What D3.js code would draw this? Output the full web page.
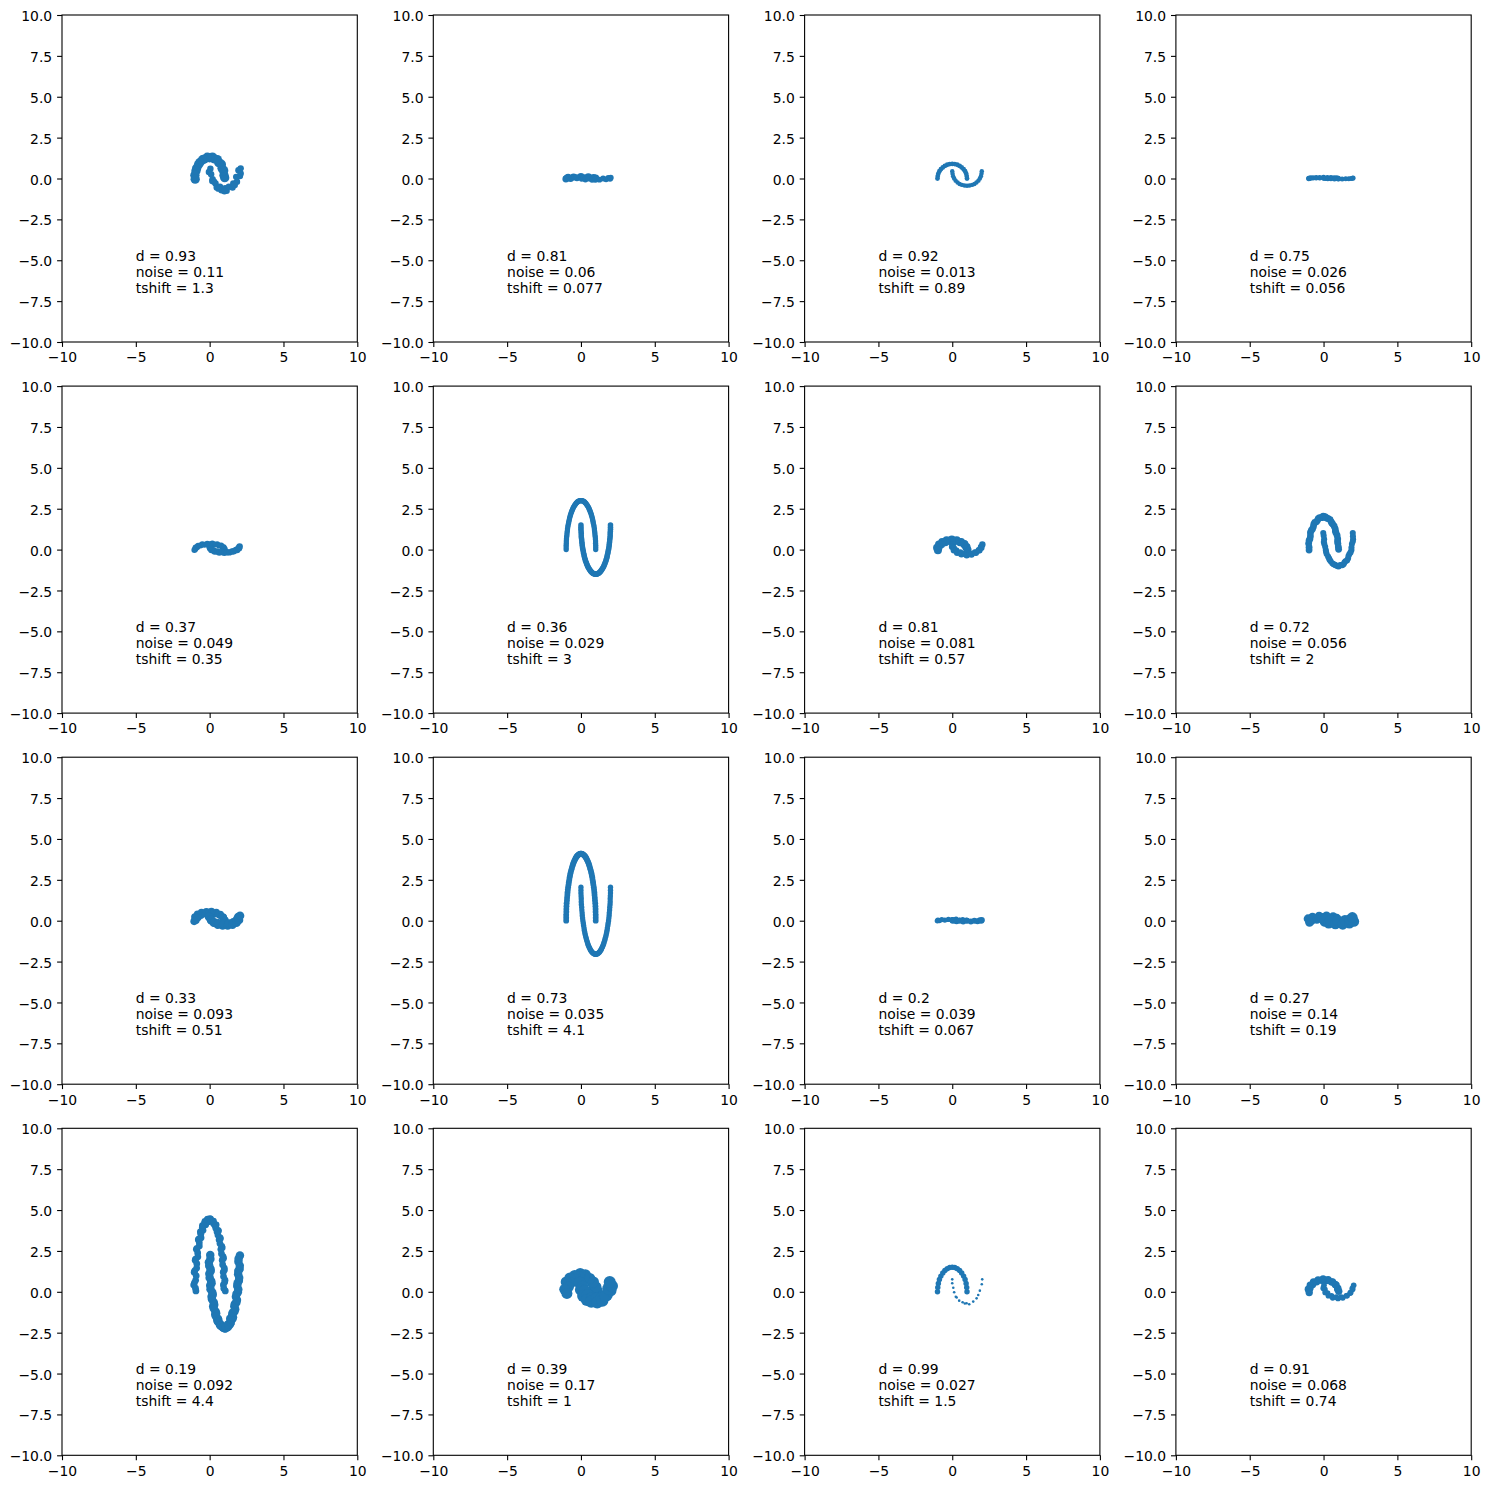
<!DOCTYPE html>
<html><head><meta charset="utf-8">
<script src="https://cdn.jsdelivr.net/npm/d3@7"></script>
<style>html,body{margin:0;padding:0;background:#fff;} svg{display:block;}</style>
</head><body>
<svg id="chart" width="1489" height="1489"></svg>
<script>
// Panel parameters (read from annotations), row-major 4x4
const dValues      = [0.93, 0.81, 0.92, 0.75, 0.37, 0.36, 0.81, 0.72, 0.33, 0.73, 0.2, 0.27, 0.19, 0.39, 0.99, 0.91];
const noiseValues  = [0.11, 0.06, 0.013, 0.026, 0.049, 0.029, 0.081, 0.056, 0.093, 0.035, 0.039, 0.14, 0.092, 0.17, 0.027, 0.068];
const tshiftValues = [1.3, 0.077, 0.89, 0.056, 0.35, 3, 0.57, 2, 0.51, 4.1, 0.067, 0.19, 4.4, 1, 1.5, 0.74];

const xTicks = [-10, -5, 0, 5, 10];
const yTicks = [-10, -7.5, -5, -2.5, 0, 2.5, 5, 7.5, 10];

// Point samples: outer moon and inner moon
const p1Outer = [[1.02,0.05],[0.97,0.2],[0.95,0.48],[0.84,0.62],[0.79,0.87],[0.62,0.97],[0.52,1.16],[0.33,1.2],[0.19,1.31],[0.0,1.27],[-0.16,1.3],[-0.36,1.19],[-0.48,1.15],[-0.66,0.98],[-0.75,0.86],[-0.88,0.62],[-0.93,0.46],[-1.0,0.2],[-0.98,-0.04]];
const p1Inner = [[0.05,0.6],[-0.05,0.4],[0.1,0.26],[0.2,-0.05],[0.18,-0.15],[0.4,-0.3],[0.48,-0.55],[0.7,-0.5],[0.8,-0.72],[1.05,-0.6],[1.15,-0.75],[1.3,-0.5],[1.55,-0.55],[1.6,-0.3],[1.85,-0.2],[1.8,0.1],[2.05,0.15],[1.95,0.5],[2.1,0.62],[0.6,-0.62],[1.0,-0.78],[1.7,-0.4],[2.1,0.3],[0.3,-0.2]];

const p2Outer = [[1.0,0.03],[0.97,-0.04],[0.86,0.06],[0.7,0.02],[0.5,0.1],[0.25,0.05],[0.0,0.12],[-0.27,0.04],[-0.5,0.09],[-0.7,0.0],[-0.87,0.07],[-0.96,0.01],[-1.02,-0.03]];
const p2Inner = [[0.02,0.06],[0.05,-0.02],[0.15,0.02],[0.3,-0.06],[0.5,0.0],[0.75,-0.08],[1.0,-0.02],[1.25,-0.07],[1.5,0.0],[1.7,-0.05],[1.85,0.03],[1.97,-0.02],[2.02,0.05]];

const p3Outer = [[1,0],[0.98,0.15],[0.94,0.3],[0.87,0.45],[0.77,0.57],[0.64,0.68],[0.5,0.77],[0.34,0.84],[0.17,0.88],[0,0.89],[-0.17,0.88],[-0.34,0.84],[-0.5,0.77],[-0.64,0.68],[-0.77,0.57],[-0.87,0.45],[-0.94,0.3],[-0.98,0.15],[-1,0]];
const p3Inner = [[0,0.45],[0.02,0.29],[0.06,0.14],[0.13,0],[0.23,-0.13],[0.36,-0.24],[0.5,-0.33],[0.66,-0.39],[0.83,-0.43],[1,-0.45],[1.17,-0.43],[1.34,-0.39],[1.5,-0.33],[1.64,-0.24],[1.77,-0.13],[1.87,0],[1.94,0.14],[1.98,0.29],[2,0.45]];

const p4Outer = [[1,0],[0.97,0.01],[0.87,0.03],[0.71,0.04],[0.5,0.05],[0.26,0.05],[0,0.06],[-0.26,0.05],[-0.5,0.05],[-0.71,0.04],[-0.87,0.03],[-0.97,0.01],[-1,0]];
const p4Inner = [[0,0.03],[0.03,0.01],[0.13,0],[0.29,-0.01],[0.5,-0.02],[0.74,-0.03],[1,-0.03],[1.26,-0.03],[1.5,-0.02],[1.71,-0.01],[1.87,0],[1.97,0.01],[2,0.03]];

const p5Outer = [[1.02,0.03],[0.98,0.04],[0.95,0.14],[0.86,0.16],[0.78,0.25],[0.63,0.25],[0.51,0.33],[0.33,0.31],[0.18,0.37],[0.01,0.33],[-0.16,0.36],[-0.35,0.3],[-0.5,0.32],[-0.62,0.25],[-0.78,0.24],[-0.85,0.15],[-0.95,0.13],[-0.97,0.04],[-1.03,-0.02]];
const p5Inner = [[-0.02,0.2],[0.03,0.09],[0.07,0.08],[0.12,-0.02],[0.25,-0.04],[0.34,-0.11],[0.52,-0.12],[0.65,-0.18],[0.84,-0.15],[0.99,-0.2],[1.18,-0.16],[1.33,-0.17],[1.52,-0.11],[1.63,-0.1],[1.78,-0.03],[1.86,-0.02],[1.95,0.08],[1.99,0.09],[2.03,0.19]];

const p6Outer = [[1,0],[1,0.26],[0.99,0.52],[0.97,0.78],[0.94,1.03],[0.91,1.27],[0.87,1.5],[0.82,1.72],[0.77,1.93],[0.71,2.12],[0.64,2.3],[0.57,2.46],[0.5,2.6],[0.42,2.72],[0.34,2.82],[0.26,2.9],[0.17,2.96],[0.09,2.99],[0,3],[-0.09,2.99],[-0.17,2.96],[-0.26,2.9],[-0.34,2.82],[-0.42,2.72],[-0.5,2.6],[-0.57,2.46],[-0.64,2.3],[-0.71,2.12],[-0.77,1.93],[-0.82,1.72],[-0.87,1.5],[-0.91,1.27],[-0.94,1.03],[-0.97,0.78],[-0.99,0.52],[-1,0.26],[-1,0]];
const p6OuterFill = [[1,0.13],[0.99,0.39],[0.98,0.65],[0.95,0.9],[0.92,1.15],[0.89,1.39],[0.84,1.61],[0.79,1.83],[0.74,2.03],[0.68,2.21],[0.61,2.38],[0.54,2.53],[0.46,2.66],[0.38,2.77],[0.3,2.86],[0.22,2.93],[0.13,2.97],[0.04,3.0],[-0.04,3.0],[-0.13,2.97],[-0.22,2.93],[-0.3,2.86],[-0.38,2.77],[-0.46,2.66],[-0.54,2.53],[-0.61,2.38],[-0.68,2.21],[-0.74,2.03],[-0.79,1.83],[-0.84,1.61],[-0.89,1.39],[-0.92,1.15],[-0.95,0.9],[-0.98,0.65],[-0.99,0.39],[-1,0.13]];
const p6Inner = [[0,1.5],[0,1.24],[0.02,0.98],[0.03,0.72],[0.06,0.47],[0.09,0.23],[0.13,0],[0.18,-0.22],[0.23,-0.43],[0.29,-0.62],[0.36,-0.8],[0.43,-0.96],[0.5,-1.1],[0.58,-1.22],[0.66,-1.32],[0.74,-1.4],[0.83,-1.46],[0.91,-1.49],[1,-1.5],[1.09,-1.49],[1.17,-1.46],[1.26,-1.4],[1.34,-1.32],[1.42,-1.22],[1.5,-1.1],[1.57,-0.96],[1.64,-0.8],[1.71,-0.62],[1.77,-0.43],[1.82,-0.22],[1.87,0],[1.91,0.23],[1.94,0.47],[1.97,0.72],[1.98,0.98],[2,1.24],[2,1.5]];
const p6InnerFill = [[0,1.37],[0.01,1.11],[0.02,0.85],[0.05,0.6],[0.08,0.35],[0.11,0.11],[0.16,-0.11],[0.21,-0.33],[0.26,-0.53],[0.32,-0.71],[0.39,-0.88],[0.46,-1.03],[0.54,-1.16],[0.62,-1.27],[0.7,-1.36],[0.78,-1.43],[0.87,-1.47],[0.96,-1.5],[1.04,-1.5],[1.13,-1.47],[1.22,-1.43],[1.3,-1.36],[1.38,-1.27],[1.46,-1.16],[1.54,-1.03],[1.61,-0.88],[1.68,-0.71],[1.74,-0.53],[1.79,-0.33],[1.84,-0.11],[1.89,0.11],[1.92,0.35],[1.95,0.6],[1.98,0.85],[1.99,1.11],[2,1.37]];

const p7Outer = [[1.04,-0.03],[0.95,0.14],[0.97,0.16],[0.83,0.33],[0.8,0.34],[0.6,0.47],[0.53,0.45],[0.3,0.58],[0.2,0.52],[-0.03,0.62],[-0.15,0.53],[-0.38,0.57],[-0.47,0.45],[-0.68,0.47],[-0.74,0.33],[-0.9,0.31],[-0.92,0.15],[-1.03,0.12],[-0.97,-0.04]];
const p7Inner = [[0.03,0.32],[-0.01,0.17],[0.1,0.1],[0.11,-0.04],[0.27,-0.05],[0.33,-0.19],[0.54,-0.18],[0.62,-0.29],[0.86,-0.25],[0.98,-0.34],[1.2,-0.25],[1.3,-0.3],[1.54,-0.17],[1.6,-0.19],[1.8,-0.04],[1.84,-0.04],[1.97,0.12],[1.95,0.16],[2.04,0.31]];

const p8Outer = [[1.02,0.02],[0.97,0.37],[0.96,0.65],[0.84,1.03],[0.79,1.27],[0.62,1.56],[0.52,1.7],[0.32,1.9],[0.19,1.95],[-0.02,2.04],[-0.15,1.95],[-0.36,1.9],[-0.48,1.7],[-0.66,1.55],[-0.75,1.26],[-0.89,1.03],[-0.92,0.66],[-1.01,0.37],[-0.98,-0.03]];
const p8OuterFill = [[1.0,0.17],[0.95,0.5],[0.92,0.87],[0.8,1.13],[0.72,1.43],[0.56,1.62],[0.44,1.83],[0.24,1.91],[0.1,2.02],[-0.07,1.97],[-0.27,1.95],[-0.41,1.79],[-0.59,1.66],[-0.69,1.39],[-0.83,1.17],[-0.89,0.83],[-0.98,0.54],[-0.98,0.15]];
const p8Inner = [[-0.02,1.02],[0.04,0.63],[0.05,0.35],[0.15,-0.03],[0.21,-0.27],[0.38,-0.55],[0.48,-0.71],[0.68,-0.9],[0.81,-0.95],[1.02,-1.03],[1.15,-0.95],[1.36,-0.9],[1.48,-0.71],[1.66,-0.55],[1.75,-0.27],[1.89,-0.02],[1.92,0.34],[2.0,0.63],[1.98,1.02]];
const p8InnerFill = [[0.01,0.85],[0.02,0.46],[0.11,0.17],[0.17,-0.13],[0.31,-0.43],[0.41,-0.62],[0.59,-0.83],[0.73,-0.91],[0.92,-1.01],[1.08,-0.97],[1.27,-0.95],[1.41,-0.79],[1.59,-0.66],[1.69,-0.39],[1.83,-0.17],[1.89,0.13],[1.98,0.5],[1.99,0.81]];

const p9Outer = [[0.97,0.05],[1.04,0.03],[0.9,0.22],[0.93,0.2],[0.72,0.38],[0.7,0.33],[0.45,0.5],[0.38,0.42],[0.12,0.56],[0.05,0.45],[-0.22,0.55],[-0.28,0.42],[-0.55,0.5],[-0.6,0.33],[-0.82,0.39],[-0.8,0.2],[-1.0,0.22],[-0.93,0.03],[-1.05,-0.04]];
const p9Inner = [[0.04,0.2],[-0.04,0.22],[0.1,0.03],[0.09,0.06],[0.28,-0.13],[0.32,-0.09],[0.55,-0.25],[0.6,-0.16],[0.88,-0.3],[0.95,-0.2],[1.22,-0.3],[1.3,-0.17],[1.55,-0.24],[1.6,-0.09],[1.82,-0.12],[1.83,0.06],[1.99,0.04],[1.93,0.22],[2.06,0.3]];

const p10Outer = [[1,0],[1,0.36],[0.99,0.71],[0.97,1.06],[0.94,1.4],[0.91,1.73],[0.87,2.05],[0.82,2.35],[0.77,2.64],[0.71,2.9],[0.64,3.14],[0.57,3.36],[0.5,3.55],[0.42,3.71],[0.34,3.85],[0.26,3.96],[0.17,4.04],[0.09,4.08],[0,4.1],[-0.09,4.08],[-0.17,4.04],[-0.26,3.96],[-0.34,3.85],[-0.42,3.71],[-0.5,3.55],[-0.57,3.36],[-0.64,3.14],[-0.71,2.9],[-0.77,2.64],[-0.82,2.35],[-0.87,2.05],[-0.91,1.73],[-0.94,1.4],[-0.97,1.06],[-0.99,0.71],[-1,0.36],[-1,0]];
const p10OuterFill = [[1,0.18],[0.99,0.54],[0.98,0.89],[0.95,1.23],[0.92,1.57],[0.89,1.89],[0.84,2.2],[0.79,2.5],[0.74,2.77],[0.68,3.02],[0.61,3.25],[0.54,3.46],[0.46,3.64],[0.38,3.79],[0.3,3.91],[0.22,4.0],[0.13,4.06],[0.04,4.1],[-0.04,4.1],[-0.13,4.06],[-0.22,4.0],[-0.3,3.91],[-0.38,3.79],[-0.46,3.64],[-0.54,3.46],[-0.61,3.25],[-0.68,3.02],[-0.74,2.77],[-0.79,2.5],[-0.84,2.2],[-0.89,1.89],[-0.92,1.57],[-0.95,1.23],[-0.98,0.89],[-0.99,0.54],[-1,0.18]];
const p10Inner = [[0,2.05],[0,1.69],[0.02,1.34],[0.03,0.99],[0.06,0.65],[0.09,0.32],[0.13,0],[0.18,-0.3],[0.23,-0.59],[0.29,-0.85],[0.36,-1.09],[0.43,-1.31],[0.5,-1.5],[0.58,-1.66],[0.66,-1.8],[0.74,-1.91],[0.83,-1.99],[0.91,-2.03],[1,-2.05],[1.09,-2.03],[1.17,-1.99],[1.26,-1.91],[1.34,-1.8],[1.42,-1.66],[1.5,-1.5],[1.57,-1.31],[1.64,-1.09],[1.71,-0.85],[1.77,-0.59],[1.82,-0.3],[1.87,0],[1.91,0.32],[1.94,0.65],[1.97,0.99],[1.98,1.34],[2,1.69],[2,2.05]];
const p10InnerFill = [[0,1.87],[0.01,1.51],[0.02,1.16],[0.05,0.82],[0.08,0.48],[0.11,0.16],[0.16,-0.15],[0.21,-0.45],[0.26,-0.72],[0.32,-0.97],[0.39,-1.2],[0.46,-1.41],[0.54,-1.59],[0.62,-1.74],[0.7,-1.86],[0.78,-1.95],[0.87,-2.01],[0.96,-2.05],[1.04,-2.05],[1.13,-2.01],[1.22,-1.95],[1.3,-1.86],[1.38,-1.74],[1.46,-1.59],[1.54,-1.41],[1.61,-1.2],[1.68,-0.97],[1.74,-0.72],[1.79,-0.45],[1.84,-0.15],[1.89,0.16],[1.92,0.48],[1.95,0.82],[1.98,1.16],[1.99,1.51],[2,1.87]];

const p11Outer = [[1,0.01],[0.96,0.03],[0.87,0.0],[0.71,0.07],[0.5,0.04],[0.26,0.09],[0,0.05],[-0.26,0.08],[-0.5,0.04],[-0.71,0.07],[-0.87,0.01],[-0.97,0.04],[-1.01,-0.01]];
const p11Inner = [[0,0.05],[0.03,0.0],[0.13,0.02],[0.29,-0.03],[0.5,0.0],[0.74,-0.05],[1,-0.01],[1.26,-0.05],[1.5,0.0],[1.71,-0.03],[1.87,0.02],[1.97,-0.01],[2,0.04]];

const p12Outer = [[1.05,-0.08],[0.9,0.15],[0.92,0.02],[0.65,0.25],[0.55,0.08],[0.2,0.3],[0.05,0.1],[-0.3,0.28],[-0.45,0.08],[-0.75,0.22],[-0.82,0.0],[-1.05,0.12],[-0.95,-0.1]];
const p12Inner = [[-0.05,0.15],[0.1,-0.05],[0.08,0.1],[0.35,-0.15],[0.45,0.02],[0.8,-0.2],[0.95,0.0],[1.3,-0.22],[1.45,0.02],[1.75,-0.15],[1.8,0.08],[2.05,-0.05],[1.95,0.2]];

const p13Outer = [[1.06,0.05],[0.93,0.42],[1.04,0.71],[0.92,1.2],[0.99,1.45],[0.85,1.93],[0.91,2.15],[0.76,2.6],[0.82,2.78],[0.64,3.18],[0.69,3.32],[0.5,3.68],[0.56,3.76],[0.35,4.07],[0.4,4.09],[0.18,4.33],[0.22,4.28],[0.02,4.47],[0.05,4.36],[-0.14,4.45],[-0.1,4.28],[-0.32,4.3],[-0.27,4.1],[-0.49,4.05],[-0.45,3.76],[-0.63,3.66],[-0.58,3.3],[-0.77,3.18],[-0.7,2.8],[-0.9,2.6],[-0.8,2.14],[-0.98,1.93],[-0.88,1.45],[-1.05,1.2],[-0.95,0.7],[-1.08,0.42],[-0.93,0.05]];
const p13OuterFill = [[0.96,0.2],[1.02,0.6],[0.94,0.93],[1.0,1.34],[0.88,1.66],[0.94,2.05],[0.8,2.33],[0.85,2.7],[0.7,2.95],[0.73,3.26],[0.56,3.47],[0.6,3.73],[0.42,3.88],[0.44,4.1],[0.26,4.18],[0.26,4.32],[0.1,4.34],[0.07,4.44],[-0.02,4.38],[-0.17,4.4],[-0.2,4.26],[-0.34,4.22],[-0.4,4.05],[-0.5,3.92],[-0.58,3.68],[-0.6,3.52],[-0.74,3.22],[-0.7,3.0],[-0.86,2.66],[-0.81,2.38],[-0.95,2.0],[-0.87,1.72],[-1.0,1.3],[-0.91,0.98],[-1.03,0.55],[-0.96,0.22]];
const p13Inner = [[0.04,2.25],[-0.05,1.8],[0.06,1.4],[-0.02,1.1],[0.1,0.66],[0.04,0.38],[0.18,-0.04],[0.13,-0.3],[0.28,-0.66],[0.24,-0.88],[0.4,-1.2],[0.38,-1.37],[0.55,-1.64],[0.52,-1.76],[0.71,-1.97],[0.7,-2.02],[0.88,-2.16],[0.88,-2.15],[1.03,-2.25],[1.05,-2.16],[1.2,-2.17],[1.24,-2.02],[1.38,-1.98],[1.4,-1.63],[1.54,-1.66],[1.53,-1.37],[1.68,-1.2],[1.67,-0.88],[1.81,-0.66],[1.78,-0.3],[1.91,-0.03],[1.87,0.36],[1.98,0.68],[1.93,1.08],[2.03,1.4],[1.95,1.84],[2.05,2.22]];
const p13InnerFill = [[0.05,2.0],[-0.03,1.6],[0.07,1.27],[0.0,0.86],[0.13,0.53],[0.06,0.15],[0.21,-0.18],[0.16,-0.46],[0.31,-0.79],[0.28,-1.02],[0.44,-1.31],[0.42,-1.49],[0.59,-1.72],[0.58,-1.85],[0.75,-2.03],[0.74,-2.07],[0.92,-2.2],[0.93,-2.17],[1.08,-2.23],[1.1,-2.13],[1.26,-2.12],[1.27,-1.98],[1.43,-1.9],[1.42,-1.68],[1.58,-1.55],[1.57,-1.27],[1.73,-1.07],[1.71,-0.75],[1.85,-0.5],[1.82,-0.14],[1.94,0.14],[1.89,0.53],[2.0,0.86],[1.94,1.27],[2.04,1.6],[1.96,2.02]];

const p14Outer = [[1.1,0.05],[0.9,0.25],[1.02,0.3],[0.78,0.55],[0.85,0.6],[0.55,0.8],[0.6,0.82],[0.3,1.05],[0.2,0.9],[-0.05,1.12],[-0.1,0.92],[-0.42,1.0],[-0.45,0.8],[-0.75,0.85],[-0.7,0.55],[-1.0,0.6],[-0.85,0.3],[-1.1,0.15],[-0.95,-0.1]];
const p14Inner = [[-0.08,0.55],[0.1,0.3],[0.0,0.12],[0.25,0.05],[0.15,-0.25],[0.45,-0.2],[0.4,-0.5],[0.75,-0.38],[0.7,-0.6],[1.05,-0.42],[1.1,-0.65],[1.4,-0.38],[1.45,-0.55],[1.75,-0.2],[1.65,-0.25],[2.0,0.08],[1.85,0.2],[2.1,0.35],[1.95,0.6]];

const p15Outer = [[1,0],[0.98,0.26],[0.94,0.51],[0.87,0.75],[0.77,0.96],[0.64,1.15],[0.5,1.3],[0.34,1.41],[0.17,1.48],[0,1.5],[-0.17,1.48],[-0.34,1.41],[-0.5,1.3],[-0.64,1.15],[-0.77,0.96],[-0.87,0.75],[-0.94,0.51],[-0.98,0.26],[-1,0]];
const p15Inner = [[0.0,0.76],[0.0,0.52],[0.07,0.25],[0.13,-0.03],[0.24,-0.3],[0.3,-0.35],[0.47,-0.54],[0.7,-0.64],[0.85,-0.72],[0.97,-0.7],[1.15,-0.76],[1.42,-0.6],[1.65,-0.4],[1.76,-0.2],[1.87,0.07],[2.0,0.46],[2.03,0.76]];

const p16Outer = [[1.03,0.03],[0.96,0.16],[0.96,0.22],[0.85,0.41],[0.79,0.45],[0.61,0.6],[0.53,0.61],[0.31,0.74],[0.2,0.69],[-0.03,0.78],[-0.14,0.7],[-0.37,0.73],[-0.47,0.61],[-0.68,0.6],[-0.74,0.45],[-0.9,0.4],[-0.92,0.22],[-1.03,0.16],[-0.97,-0.04]];
const p16Inner = [[0.03,0.4],[-0.02,0.22],[0.09,0.15],[0.11,-0.04],[0.27,-0.08],[0.33,-0.24],[0.54,-0.24],[0.62,-0.37],[0.86,-0.33],[0.98,-0.41],[1.2,-0.33],[1.3,-0.37],[1.54,-0.24],[1.6,-0.23],[1.8,-0.08],[1.84,-0.04],[1.97,0.15],[1.95,0.21],[2.04,0.4]];

const outerMoons = [p1Outer, p2Outer, p3Outer, p4Outer, p5Outer, p6Outer.concat(p6OuterFill), p7Outer, p8Outer.concat(p8OuterFill),
  p9Outer, p10Outer.concat(p10OuterFill), p11Outer, p12Outer, p13Outer.concat(p13OuterFill), p14Outer, p15Outer, p16Outer];
const innerMoons = [p1Inner, p2Inner, p3Inner, p4Inner, p5Inner, p6Inner.concat(p6InnerFill), p7Inner, p8Inner.concat(p8InnerFill),
  p9Inner, p10Inner.concat(p10InnerFill), p11Inner, p12Inner, p13Inner.concat(p13InnerFill), p14Inner, p15Inner, p16Inner];

// ---- layout / style ----
const svg = d3.select("#chart");
svg.append("rect").attr("width", 1489).attr("height", 1489).attr("fill", "#fff");
const W = 295.3, H = 327;
const left0 = 62.0, top0 = 15.0, stepX = 371.3, stepY = 371.1;
const font = "'DejaVu Sans', sans-serif";
const fontSize = 13.9;
const dotColor = "#1f77b4";
const pxPerUnit = 15.5;

const x = d3.scaleLinear().domain([-10, 10]).range([0, W]);
const y = d3.scaleLinear().domain([-10, 10]).range([H, 0]);
const fmtParam = d3.format(".2~g");

function dotRadius(frac, noise) {
  if (frac < 0.03) return 1.3;
  const g = Math.min(1, 0.35 + 1.3 * frac);
  return 2.1 + g * 1.5 * noise * pxPerUnit;
}

dValues.forEach((dv, i) => {
  const col = i % 4, row = Math.floor(i / 4);
  const g = svg.append("g").attr("transform", `translate(${left0 + col * stepX},${top0 + row * stepY})`);

  const moons = [
    { pts: outerMoons[i], frac: dv },
    { pts: innerMoons[i], frac: 1 - dv }
  ];
  moons.forEach(m => {
    const r = dotRadius(m.frac, noiseValues[i]);
    g.append("g").selectAll("circle").data(m.pts).join("circle")
      .attr("cx", p => x(p[0]))
      .attr("cy", p => y(p[1]))
      .attr("r", r)
      .attr("fill", dotColor);
  });

  // annotation
  const lines = [
    `d = ${fmtParam(dv)}`,
    `noise = ${fmtParam(noiseValues[i])}`,
    `tshift = ${fmtParam(tshiftValues[i])}`
  ];
  const t = g.append("text").attr("x", x(-5)).attr("y", y(-5) + 0.5)
    .attr("font-size", fontSize).attr("font-family", font).attr("fill", "#000");
  lines.forEach((l, k) => t.append("tspan").attr("x", x(-5)).attr("dy", k ? 16.1 : 0).text(l));

  // axes
  const styleAxis = a => {
    a.select(".domain").remove();
    a.attr("font-size", fontSize).attr("font-family", font);
    a.selectAll("text").attr("fill", "#000");
    a.selectAll("line").attr("stroke", "#000").attr("stroke-width", 1.1);
  };
  g.append("g").attr("transform", `translate(0,${H})`)
    .call(d3.axisBottom(x).tickValues(xTicks).tickFormat(d3.format("d")).tickSize(4.9).tickPadding(5.6).tickSizeOuter(0))
    .call(styleAxis);
  g.append("g")
    .call(d3.axisLeft(y).tickValues(yTicks).tickFormat(d3.format(".1f")).tickSize(4.9).tickPadding(4.9).tickSizeOuter(0))
    .call(styleAxis)
    .call(a => a.selectAll("text").attr("dy", "0.4em"));

  // frame
  g.append("rect").attr("width", W).attr("height", H)
    .attr("fill", "none").attr("stroke", "#000").attr("stroke-width", 1.1);
});
</script>
</body></html>
